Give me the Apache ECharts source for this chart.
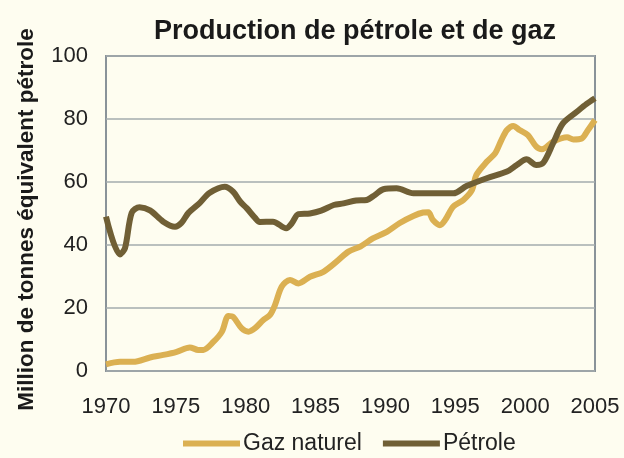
<!DOCTYPE html>
<html>
<head>
<meta charset="utf-8">
<script src="https://cdn.jsdelivr.net/npm/echarts@6/dist/echarts.min.js"></script>
<style>
html, body { margin: 0; padding: 0; background: #fefdf0; }
#chart { width: 624px; height: 458px; }
</style>
</head>
<body>
<div id="chart"></div>
<script>
// années (points irréguliers)
var gazAnnees = [1970, 1971, 1971.95, 1973.15, 1974.1, 1975.06, 1976.0, 1976.6, 1976.97, 1977.7, 1978.3, 1978.76, 1979.1, 1979.7, 1980.2, 1980.67, 1981.26, 1981.74, 1982.1, 1982.58, 1983.17, 1983.77, 1984.6, 1985.56, 1986.5, 1987.35, 1988.2, 1989.1, 1990.1, 1991.0, 1992.0, 1992.7, 1993.07, 1993.4, 1993.9, 1994.27, 1994.86, 1995.58, 1996.2, 1996.5, 1997.25, 1997.85, 1998.3, 1998.7, 1999.15, 1999.6, 2000.2, 2000.8, 2001.2, 2002.0, 2003.0, 2003.45, 2004.05, 2004.5, 2005.0];
var gazValeurs = [2.1, 2.9, 2.9, 4.3, 5.1, 6.1, 7.5, 6.7, 6.7, 9.3, 12.5, 17.5, 17.2, 13.6, 12.5, 13.6, 16.2, 17.8, 21, 26.8, 28.9, 27.8, 29.9, 31.5, 34.7, 37.9, 39.5, 42.1, 44.2, 46.9, 49.2, 50.3, 50.4, 47.9, 46.3, 47.9, 52.2, 54.3, 57.5, 62.2, 66.4, 69.1, 73.3, 76.5, 77.8, 76.5, 74.9, 71.2, 70.4, 72.8, 74.2, 73.5, 73.8, 76.5, 79.7];

var petroleAnnees = [1970, 1971.0, 1971.36, 1971.84, 1972.4, 1973.15, 1974.1, 1974.94, 1975.4, 1975.9, 1976.7, 1977.4, 1978.5, 1979.1, 1979.6, 1980.07, 1980.67, 1981.0, 1981.95, 1982.9, 1983.3, 1983.77, 1984.6, 1985.4, 1986.3, 1987.0, 1987.9, 1988.66, 1989.25, 1989.85, 1990.8, 1992.0, 1993.2, 1994.86, 1995.8, 1997.25, 1998.7, 1999.4, 2000.1, 2000.8, 2001.3, 2002.0, 2002.7, 2003.7, 2004.4, 2005.0];
var petroleValeurs = [49, 37, 39, 50.2, 52, 51, 47.4, 45.8, 47, 50.2, 53.3, 56.5, 58.5, 56.9, 53.8, 51.7, 48.6, 47.3, 47.4, 45.3, 46.9, 49.8, 50, 50.9, 52.7, 53.2, 54.1, 54.3, 55.9, 57.7, 58, 56.4, 56.4, 56.4, 58.7, 61.2, 63.3, 65.4, 67.2, 65.4, 66.1, 72.3, 78.6, 82.3, 84.8, 86.6];

var nomsSeries = ['Gaz naturel', 'Pétrole'];
var couleurs = ['#dbb052', '#705f35'];

function paires(annees, valeurs) {
	var res = [];
	for (var i = 0; i < annees.length; i++) {
		res.push([annees[i], valeurs[i]]);
	}
	return res;
}

var myChart = echarts.init(document.getElementById('chart'));
var option = {
	backgroundColor: '#fefdf0',
	animation: false,
	textStyle: { fontFamily: 'Liberation Sans, Arial, sans-serif' },
	title: {
		text: 'Production de pétrole et de gaz',
		left: 350,
		top: 13,
		textAlign: 'center',
		textStyle: { fontSize: 27, fontWeight: 'bold', color: '#1a1a1a' }
	},
	legend: {
		data: nomsSeries,
		icon: 'rect',
		top: 427,
		left: 178,
		itemWidth: 57,
		itemHeight: 6,
		itemGap: 21,
		textStyle: { fontSize: 23, color: '#222', padding: [0, 0, 0, -2] }
	},
	grid: {
		left: 106,
		right: 29,
		top: 56,
		bottom: 87,
		show: true,
		borderColor: '#8a9399',
		borderWidth: 2,
		backgroundColor: '#fefdf0'
	},
	xAxis: {
		type: 'value',
		min: 1970,
		max: 2005,
		interval: 5,
		axisLine: { show: false },
		axisTick: { show: false },
		splitLine: { show: false },
		axisLabel: {
			fontSize: 22,
			color: '#222',
			margin: 25,
			formatter: function (v) { return String(v); }
		}
	},
	yAxis: {
		type: 'value',
		min: 0,
		max: 100,
		interval: 20,
		name: 'Million de tonnes équivalent pétrole',
		nameLocation: 'middle',
		nameGap: 68,
		nameTextStyle: { fontSize: 22.5, fontWeight: 'bold', color: '#1a1a1a', padding: [0, 12, 0, 0] },
		axisLine: { show: false },
		axisTick: { show: false },
		splitLine: { lineStyle: { color: '#a3abae', width: 1.5 } },
		axisLabel: { fontSize: 22, color: '#222', margin: 18 }
	},
	series: [
		{
			name: nomsSeries[0],
			type: 'line',
			data: paires(gazAnnees, gazValeurs),
			smooth: 0.3,
			symbol: 'none',
			color: couleurs[0],
			lineStyle: { width: 6, color: couleurs[0] }
		},
		{
			name: nomsSeries[1],
			type: 'line',
			data: paires(petroleAnnees, petroleValeurs),
			smooth: 0.3,
			symbol: 'none',
			color: couleurs[1],
			lineStyle: { width: 6, color: couleurs[1] }
		}
	]
};
myChart.setOption(option);
</script>
</body>
</html>
